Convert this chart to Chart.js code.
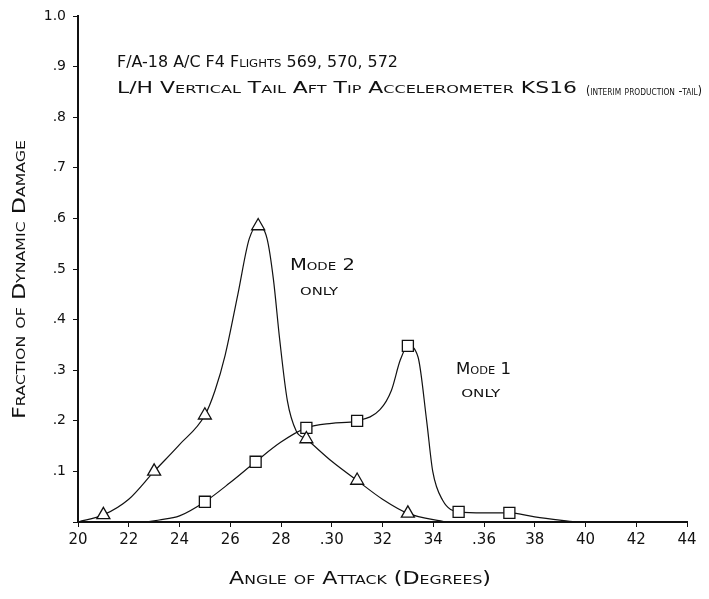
<!DOCTYPE html>
<html>
<head>
<meta charset="utf-8">
<script src="https://cdn.jsdelivr.net/npm/chart.js@4.4.0/dist/chart.umd.min.js"></script>
<style>
  html, body { margin: 0; padding: 0; background: #fff; }
  #damageChart { display: block; }
</style>
</head>
<body>
<canvas id="damageChart" width="709" height="599"></canvas>
<script>
// Plotted symbols: angle of attack (deg) vs fraction of dynamic damage
const mode2Angles = [21, 23, 25, 27.1, 29, 31, 33];
const mode2Values = [0.014, 0.10, 0.211, 0.585, 0.164, 0.082, 0.017];
const mode1Angles = [25, 27, 29, 31, 33, 35, 37];
const mode1Values = [0.04, 0.119, 0.186, 0.20, 0.348, 0.02, 0.018];

// Points along the faired curves between the symbols
const mode2FairAngles = [20, 22, 24, 25.4, 25.8, 26.3, 26.75, 27.45, 27.7, 27.95, 28.25, 28.6, 30, 32, 34.5];
const mode2FairValues = [0, 0.045, 0.153, 0.26, 0.33, 0.45, 0.56, 0.56, 0.48, 0.36, 0.24, 0.18, 0.12, 0.045, 0];
const mode1FairAngles = [20, 22.6, 23.2, 24, 26, 28, 30, 31.9, 32.35, 32.7, 33.4, 33.74, 33.98, 34.37, 36, 38, 39.6];
const mode1FairValues = [0, 0, 0.004, 0.012, 0.078, 0.158, 0.195, 0.222, 0.26, 0.32, 0.326, 0.2, 0.10, 0.043, 0.018, 0.01, 0];

const angleTicks = ['20', '22', '24', '26', '28', '.30', '32', '34', '.36', '38', '40', '42', '44'];
const damageTicks = ['', '.1', '.2', '.3', '.4', '.5', '.6', '.7', '.8', '.9', '1.0'];

const FONT = '"DejaVu Sans", sans-serif';
const INK = '#111';

function toPoints(xs, ys) {
  return xs.map((x, i) => ({ x: x, y: ys[i] }));
}

function fairedCurve(xs, ys, fx, fy) {
  return toPoints(xs, ys).concat(toPoints(fx, fy)).sort((a, b) => a.x - b.x);
}

// draws small-caps text squeezed/stretched to a given width
function fitText(ctx, text, x, y, width, size, angle) {
  ctx.save();
  ctx.font = 'small-caps ' + size + 'px ' + FONT;
  ctx.fontVariantCaps = 'small-caps';
  ctx.fillStyle = INK;
  ctx.textAlign = 'left';
  ctx.textBaseline = 'middle';
  const w = ctx.measureText(text).width;
  ctx.translate(x, y);
  if (angle) ctx.rotate(angle);
  ctx.scale(width / w, 1);
  ctx.fillText(text, 0, 0);
  ctx.restore();
}

const notes = {
  id: 'notes',
  afterDraw(chart) {
    const ctx = chart.ctx;
    const xs = chart.scales.x;
    const ys = chart.scales.y;
    fitText(ctx, 'F/A-18 A/C F4 Flights 569, 570, 572', 117, 63, 281, 15);
    fitText(ctx, 'L/H Vertical Tail Aft Tip Accelerometer KS16', 117, 89, 460, 15);
    fitText(ctx, '(interim production -tail)', 586, 92, 116, 13);

    fitText(ctx, 'Mode 2', xs.getPixelForValue(28.35), ys.getPixelForValue(0.507), 65, 16);
    fitText(ctx, 'only', xs.getPixelForValue(28.75), ys.getPixelForValue(0.456), 38, 14);
    fitText(ctx, 'Mode 1', xs.getPixelForValue(34.9), ys.getPixelForValue(0.301), 55, 16);
    fitText(ctx, 'only', xs.getPixelForValue(35.1), ys.getPixelForValue(0.254), 39, 14);

    fitText(ctx, 'Angle of Attack (Degrees)', 229, 580, 262, 17);
    fitText(ctx, 'Fraction of Dynamic Damage', 21, 419, 279, 17, -Math.PI / 2);
  }
};

const ctx = document.getElementById('damageChart').getContext('2d');
new Chart(ctx, {
  type: 'scatter',
  data: {
    datasets: [
      {
        label: 'Mode 2',
        data: toPoints(mode2Angles, mode2Values),
        pointStyle: 'triangle',
        pointRadius: 7.5,
        backgroundColor: '#fff',
        borderColor: INK,
        borderWidth: 1.3,
        order: 0
      },
      {
        label: 'Mode 1',
        data: toPoints(mode1Angles, mode1Values),
        pointStyle: 'rect',
        pointRadius: 7.8,
        backgroundColor: '#fff',
        borderColor: INK,
        borderWidth: 1.3,
        order: 0
      },
      {
        label: 'Mode 2 curve',
        data: fairedCurve(mode2Angles, mode2Values, mode2FairAngles, mode2FairValues),
        showLine: true,
        pointRadius: 0,
        borderColor: INK,
        borderWidth: 1.2,
        cubicInterpolationMode: 'monotone',
        order: 1
      },
      {
        label: 'Mode 1 curve',
        data: fairedCurve(mode1Angles, mode1Values, mode1FairAngles, mode1FairValues),
        showLine: true,
        pointRadius: 0,
        borderColor: INK,
        borderWidth: 1.2,
        cubicInterpolationMode: 'monotone',
        order: 1
      }
    ]
  },
  options: {
    responsive: false,
    animation: false,
    layout: { padding: { top: 16, right: 22, left: 0, bottom: 0 } },
    plugins: {
      legend: { display: false },
      tooltip: { enabled: false }
    },
    scales: {
      x: {
        type: 'linear',
        min: 20,
        max: 44,
        afterFit: (scale) => { scale.height = 77; },
        border: { display: true, color: INK, width: 2 },
        grid: { drawOnChartArea: false, color: INK, tickLength: 5, lineWidth: 1 },
        ticks: {
          stepSize: 2,
          padding: 4,
          color: INK,
          font: { family: FONT, size: 15 },
          callback: (v, i) => angleTicks[i]
        }
      },
      y: {
        min: 0,
        max: 1,
        afterFit: (scale) => { scale.width = 78; },
        border: { display: true, color: INK, width: 2 },
        grid: { drawOnChartArea: false, color: INK, tickLength: 5, lineWidth: 1 },
        ticks: {
          stepSize: 0.1,
          padding: 7,
          color: INK,
          font: { family: FONT, size: 14 },
          callback: (v, i) => damageTicks[i]
        }
      }
    }
  },
  plugins: [notes]
});
</script>
</body>
</html>
